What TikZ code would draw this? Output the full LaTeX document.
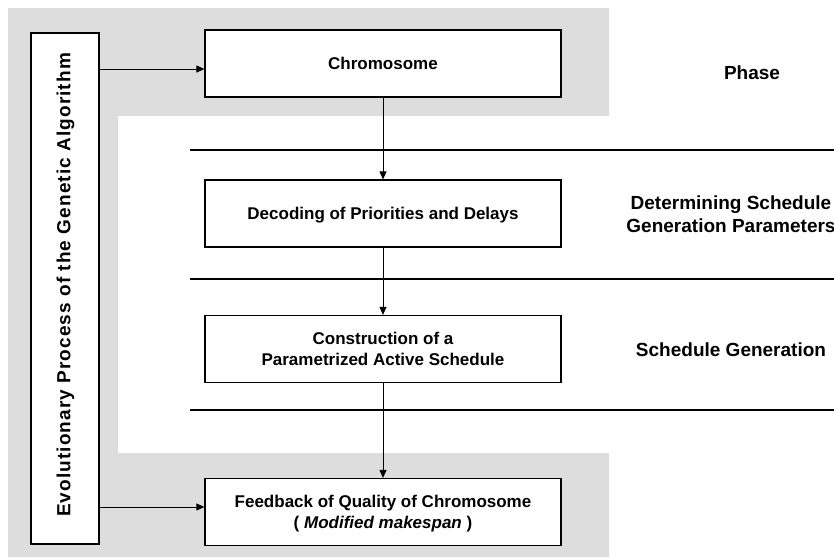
\documentclass[tikz,border=0pt]{standalone}
\usepackage{fontspec}
\setmainfont{Liberation Sans}
\usetikzlibrary{arrows.meta,positioning,calc}
\definecolor{bggray}{RGB}{221,221,221}
\tikzset{
  stage/.style={draw, line width=1.2pt, fill=white, minimum width=356pt, minimum height=67pt, inner sep=0pt, align=center, text depth=0pt, font=\fontsize{17}{21}\selectfont\bfseries},
  evo/.style={draw, line width=1.2pt, fill=white, minimum width=68pt, minimum height=511pt, inner sep=0pt},
  evotext/.style={rotate=90, inner sep=0pt, font=\fontsize{19}{23}\selectfont\bfseries\addfontfeatures{LetterSpace=5.75}},
  map/.style={-{Triangle[length=8pt, width=7pt]}, line width=1pt},
  divider/.style={line width=1.3pt},
  phase/.style={align=center, text depth=0pt, font=\fontsize{19}{23}\selectfont\bfseries},
}

\begin{document}
\begin{tikzpicture}[x=1pt, y=-1pt]
  \useasboundingbox (0,0) rectangle (834,557);
  % gray frame of the GA loop
  \fill[bggray] (8,8) -- (609,8) -- (609,116) -- (118,116) -- (118,453) -- (609,453) -- (609,557) -- (8,557) -- cycle;

  % phase separators
  \draw[divider] (190,150) -- (834,150);
  \draw[divider] (190,279) -- (834,279);
  \draw[divider] (190,410) -- (834,410);

  \node[evo] (evo) at (65,288.5) {};
  \node[evotext] (evolab) at (65.5,285) {Evolutionary Process of the Genetic Algorithm};
  \node[stage] (chrom) at (383,63.5) {Chromosome};
  \node[stage] (decod) at (383,213.5) {Decoding of Priorities and Delays};
  \node[stage] (constr) at (383,349) {Construction of a\\Parametrized Active Schedule};
  \node[stage] (feedb) at (383,512) {Feedback of Quality of Chromosome\\( \textit{Modified makespan} )};

  \node[phase] (phase) at (752,73) {Phase};
  \node[phase] (param) at (731,214) {Determining Schedule\\Generation Parameters};
  \node[phase] (gener) at (731,350) {Schedule Generation};

  \coordinate (inC) at ($(chrom.west)+(0,5.5)$);
  \coordinate (inF) at ($(feedb.west)+(0,-5)$);
  \draw[map] (evo.east |- inC) -- (inC);
  \draw[map] (evo.east |- inF) -- (inF);
  \draw[map] (chrom) -- (decod);
  \draw[map] (decod) -- (constr);
  \draw[map] (constr) -- (feedb);
\end{tikzpicture}
\end{document}
